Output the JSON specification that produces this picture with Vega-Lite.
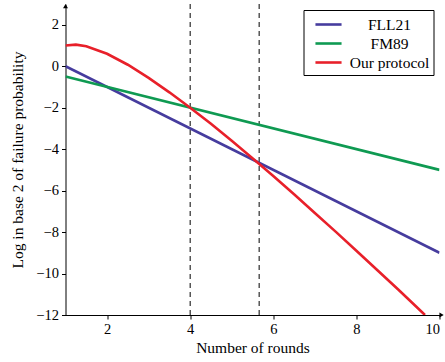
{
  "$schema": "https://vega.github.io/schema/vega-lite/v6.json",
  "width": 374,
  "height": 311,
  "autosize": "none",
  "padding": {"left": 65.5, "top": 4, "right": 5.5, "bottom": 47},
  "config": {
    "font": "Liberation Serif",
    "view": {"stroke": null},
    "axis": {
      "grid": false,
      "domainColor": "black",
      "domainWidth": 1,
      "tickColor": "black",
      "tickSize": 4,
      "labelFont": "Liberation Serif",
      "labelFontSize": 14.5,
      "labelColor": "black",
      "titleFont": "Liberation Serif",
      "titleFontSize": 15.5,
      "titleFontWeight": "normal",
      "titleColor": "black"
    }
  },
  "datasets": {
    "series": [
      {"series": "FLL21", "x": 1, "y": 0},
      {"series": "FLL21", "x": 10, "y": -9},
      {"series": "FM89", "x": 1, "y": -0.5},
      {"series": "FM89", "x": 10, "y": -5},
      {"series": "Our protocol", "x": 1, "y": 1.0},
      {"series": "Our protocol", "x": 1.25, "y": 1.04},
      {"series": "Our protocol", "x": 1.5, "y": 0.96},
      {"series": "Our protocol", "x": 2, "y": 0.6},
      {"series": "Our protocol", "x": 2.5, "y": 0.07},
      {"series": "Our protocol", "x": 3, "y": -0.56},
      {"series": "Our protocol", "x": 3.5, "y": -1.26},
      {"series": "Our protocol", "x": 4, "y": -2.0},
      {"series": "Our protocol", "x": 4.5, "y": -2.78},
      {"series": "Our protocol", "x": 5, "y": -3.6},
      {"series": "Our protocol", "x": 5.5, "y": -4.44},
      {"series": "Our protocol", "x": 6, "y": -5.3},
      {"series": "Our protocol", "x": 6.5, "y": -6.18},
      {"series": "Our protocol", "x": 7, "y": -7.08},
      {"series": "Our protocol", "x": 7.5, "y": -7.98},
      {"series": "Our protocol", "x": 8, "y": -8.9},
      {"series": "Our protocol", "x": 8.5, "y": -9.83},
      {"series": "Our protocol", "x": 9, "y": -10.76},
      {"series": "Our protocol", "x": 9.5, "y": -11.71},
      {"series": "Our protocol", "x": 9.65, "y": -12.0}
    ],
    "rules": [{"x": 4}, {"x": 5.66}],
    "arrows": [
      {"x": 10.05, "y": -12, "dir": "right"},
      {"x": 1, "y": 2.9, "dir": "up"}
    ]
  },
  "layer": [
    {
      "data": {"name": "rules"},
      "mark": {"type": "rule", "color": "black", "strokeWidth": 1, "strokeDash": [5, 4]},
      "encoding": {
        "x": {"field": "x", "type": "quantitative", "scale": {"domain": [1, 10]}}
      }
    },
    {
      "data": {"name": "arrows"},
      "mark": {"type": "point", "filled": true, "color": "black", "size": 24, "opacity": 1, "clip": false},
      "encoding": {
        "x": {"field": "x", "type": "quantitative"},
        "y": {"field": "y", "type": "quantitative"},
        "shape": {"field": "dir", "type": "nominal", "scale": {"domain": ["right", "up"], "range": ["triangle-right", "triangle-up"]}, "legend": null}
      }
    },
    {
      "data": {"name": "series"},
      "mark": {"type": "line", "strokeWidth": 2.6, "clip": true},
      "encoding": {
        "x": {
          "field": "x", "type": "quantitative",
          "scale": {"domain": [1, 10], "nice": false},
          "axis": {"values": [2, 4, 6, 8, 10], "title": "Number of rounds", "titlePadding": 5, "labelPadding": 3}
        },
        "y": {
          "field": "y", "type": "quantitative",
          "scale": {"domain": [-12, 3], "nice": false},
          "axis": {"values": [-12, -10, -8, -6, -4, -2, 0, 2], "title": "Log in base 2 of failure probability", "titlePadding": 10, "labelPadding": 3}
        },
        "color": {
          "field": "series", "type": "nominal",
          "scale": {"domain": ["FLL21", "FM89", "Our protocol"], "range": ["#463C9E", "#0F9A52", "#E8202A"]},
          "legend": {
            "title": null,
            "orient": "top-right",
            "offset": 6,
            "strokeColor": "black",
            "fillColor": "white",
            "cornerRadius": 0,
            "padding": 4,
            "symbolOffset": 10.5,
            "symbolType": "M-1.45,0H1.45",
            "symbolStrokeWidth": 2.6,
            "symbolSize": 324,
            "symbolFillColor": "transparent",
            "labelFontSize": 15.5,
            "labelFont": "Liberation Serif",
            "labelColor": "black",
            "labelAlign": "center",
            "labelOffset": 50.5,
            "rowPadding": 0
          }
        }
      }
    }
  ]
}
